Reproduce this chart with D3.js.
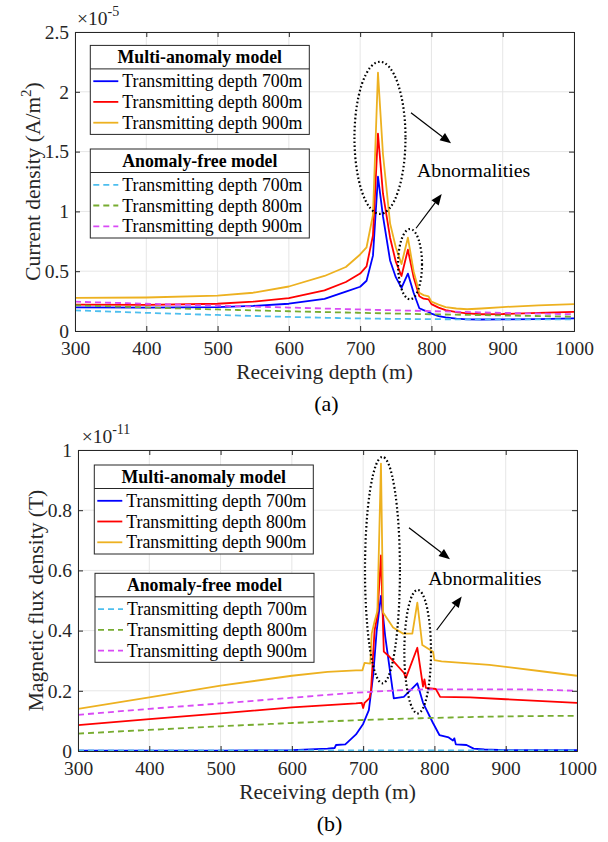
<!DOCTYPE html>
<html>
<head>
<meta charset="utf-8">
<script src="https://cdn.jsdelivr.net/npm/d3@7"></script>
<style>
  html, body { margin: 0; padding: 0; background: #fff; }
  svg { display: block; }
</style>
</head>
<body>
<script>
// ---------- Panel (a): current density, units of 1e-5 A/m^2 ----------
const depthTicks = [300, 400, 500, 600, 700, 800, 900, 1000];
const jTicks = [0, 0.5, 1, 1.5, 2, 2.5];
const jTickLabels = ["0", "0.5", "1", "1.5", "2", "2.5"];

const jDepth = [300, 400, 500, 550, 600, 650, 680, 700, 709, 718, 725, 732, 742, 750, 758, 767, 775, 783, 789, 796, 800, 810, 820, 835, 850, 870, 900, 950, 1000];
const jMulti700 = [0.197, 0.195, 0.200, 0.210, 0.228, 0.268, 0.330, 0.370, 0.420, 0.630, 1.290, 0.960, 0.590, 0.450, 0.360, 0.480, 0.320, 0.190, 0.175, 0.160, 0.145, 0.125, 0.114, 0.104, 0.097, 0.096, 0.097, 0.100, 0.105];
const jMulti800 = [0.220, 0.218, 0.228, 0.245, 0.275, 0.340, 0.410, 0.480, 0.540, 0.800, 1.650, 1.150, 0.780, 0.580, 0.460, 0.680, 0.450, 0.290, 0.270, 0.265, 0.225, 0.195, 0.175, 0.158, 0.147, 0.140, 0.142, 0.152, 0.160];
const jMulti900 = [0.277, 0.280, 0.296, 0.320, 0.372, 0.460, 0.535, 0.640, 0.700, 0.970, 2.160, 1.480, 0.900, 0.700, 0.560, 0.780, 0.500, 0.320, 0.300, 0.290, 0.245, 0.220, 0.200, 0.188, 0.182, 0.188, 0.200, 0.215, 0.225];

const jFreeDepth = [300, 400, 500, 600, 700, 800, 900, 1000];
const jFree700 = [0.173, 0.152, 0.134, 0.118, 0.105, 0.099, 0.097, 0.097];
const jFree800 = [0.215, 0.197, 0.180, 0.165, 0.152, 0.140, 0.130, 0.120];
const jFree900 = [0.245, 0.228, 0.212, 0.196, 0.180, 0.166, 0.152, 0.140];

// ---------- Panel (b): magnetic flux density, units of 1e-11 T ----------
const bTicks = [0, 0.2, 0.4, 0.6, 0.8, 1];
const bTickLabels = ["0", "0.2", "0.4", "0.6", "0.8", "1"];

const bMulti700 = [[300, 0.001], [500, 0.001], [600, 0.003], [650, 0.008], [660, 0.010], [662, 0.020], [675, 0.022], [690, 0.055], [700, 0.090], [708, 0.136], [714, 0.250], [719, 0.400], [725, 0.515], [731, 0.380], [743, 0.175], [757, 0.180], [776, 0.225], [784, 0.160], [798, 0.093], [807, 0.053], [820, 0.045], [826, 0.035], [828, 0.042], [830, 0.022], [845, 0.020], [855, 0.008], [870, 0.005], [900, 0.003], [1000, 0.003]];
const bMulti800 = [[300, 0.086], [400, 0.106], [500, 0.125], [600, 0.145], [690, 0.158], [698, 0.160], [700, 0.143], [702, 0.160], [709, 0.176], [711, 0.200], [716, 0.400], [720, 0.450], [725, 0.650], [729, 0.330], [737, 0.313], [757, 0.260], [760, 0.243], [776, 0.343], [784, 0.214], [786, 0.238], [788, 0.210], [802, 0.206], [808, 0.180], [850, 0.178], [900, 0.172], [1000, 0.160]];
const bMulti900 = [[300, 0.140], [400, 0.178], [500, 0.217], [600, 0.250], [650, 0.263], [690, 0.268], [699, 0.268], [702, 0.293], [710, 0.290], [712, 0.390], [716, 0.430], [720, 0.465], [725, 0.955], [728, 0.460], [742, 0.410], [756, 0.390], [769, 0.390], [776, 0.493], [783, 0.352], [798, 0.330], [800, 0.302], [810, 0.298], [877, 0.286], [950, 0.265], [1000, 0.250]];

const bFreeDepth = [300, 400, 500, 600, 700, 800, 900, 1000];
const bFree700 = [0.002, 0.002, 0.002, 0.002, 0.002, 0.002, 0.002, 0.002];
const bFree800 = [0.058, 0.070, 0.082, 0.093, 0.103, 0.110, 0.115, 0.117];
const bFree900 = [0.120, 0.140, 0.158, 0.177, 0.195, 0.205, 0.205, 0.200];

// ---------- shared text ----------
const legendTitles = ["Multi-anomaly model", "Anomaly-free model"];
const seriesNames = ["Transmitting depth 700m", "Transmitting depth 800m", "Transmitting depth 900m"];
const solidColors = ["#0000ff", "#ff0000", "#edb120"];
const dashColors = ["#4dbeee", "#77ac30", "#d94af5"];

const FONT = "'Liberation Serif','Times New Roman',Times,serif";
const W = 608, H = 842;

const svg = d3.select("body").append("svg")
  .attr("width", W).attr("height", H)
  .attr("viewBox", `0 0 ${W} ${H}`)
  .style("font-family", FONT);

svg.append("rect").attr("width", W).attr("height", H).attr("fill", "#fff");

function zipPairs(xs, ys) { return xs.map((x, i) => [x, ys[i]]); }

function drawPanel(cfg) {
  const g = svg.append("g");
  const x = d3.scaleLinear().domain([300, 1000]).range([cfg.left, cfg.right]);
  const y = d3.scaleLinear().domain(cfg.yDomain).range([cfg.bottom, cfg.top]);
  const clipId = "clip-" + cfg.id;

  g.append("clipPath").attr("id", clipId)
    .append("rect")
    .attr("x", cfg.left).attr("y", cfg.top)
    .attr("width", cfg.right - cfg.left).attr("height", cfg.bottom - cfg.top);

  // grid
  const grid = g.append("g").attr("stroke", "#e6e6e6").attr("stroke-width", 1);
  depthTicks.forEach(d => grid.append("line")
    .attr("x1", x(d)).attr("x2", x(d)).attr("y1", cfg.top).attr("y2", cfg.bottom));
  cfg.yTicks.forEach(d => grid.append("line")
    .attr("x1", cfg.left).attr("x2", cfg.right).attr("y1", y(d)).attr("y2", y(d)));

  const line = d3.line().x(d => x(d[0])).y(d => y(d[1]));
  const smooth = d3.line().x(d => x(d[0])).y(d => y(d[1])).curve(d3.curveMonotoneX);

  const plot = g.append("g").attr("clip-path", `url(#${clipId})`).attr("fill", "none");
  cfg.solid.forEach((s, i) => plot.append("path")
    .attr("d", line(s)).attr("stroke", solidColors[i])
    .attr("stroke-width", 1.8).attr("stroke-linejoin", "round"));
  cfg.dashed.forEach((s, i) => plot.append("path")
    .attr("d", smooth(s)).attr("stroke", dashColors[i])
    .attr("stroke-width", 1.8).attr("stroke-dasharray", "6,4"));

  // axes: bottom/left with labels, top/right mirrored ticks, all pointing inward
  const tickLen = 5;
  const axB = d3.axisBottom(x).tickValues(depthTicks).tickSize(-tickLen).tickPadding(10).tickFormat(d3.format("d"));
  const axT = d3.axisTop(x).tickValues(depthTicks).tickSize(-tickLen).tickFormat("");
  const axL = d3.axisLeft(y).tickValues(cfg.yTicks).tickSize(-tickLen).tickPadding(6)
    .tickFormat((d, i) => cfg.yTickLabels[i]);
  const axR = d3.axisRight(y).tickValues(cfg.yTicks).tickSize(-tickLen).tickFormat("");

  const styleAxis = sel => {
    sel.attr("font-family", null);
    sel.select(".domain").attr("stroke", "#262626").attr("stroke-width", 1);
    sel.selectAll(".tick line").attr("stroke", "#262626");
    sel.selectAll(".tick text").attr("fill", "#262626")
      .style("font-family", FONT).style("font-size", "19.5px");
  };
  g.append("g").attr("transform", `translate(0,${cfg.bottom})`).call(axB).call(styleAxis);
  g.append("g").attr("transform", `translate(0,${cfg.top})`).call(axT).call(styleAxis);
  g.append("g").attr("transform", `translate(${cfg.left},0)`).call(axL).call(styleAxis);
  g.append("g").attr("transform", `translate(${cfg.right},0)`).call(axR).call(styleAxis);

  // exponent multiplier above the y axis
  const expo = g.append("text").attr("x", cfg.left + cfg.expoDx).attr("y", cfg.top - 7)
    .attr("fill", "#262626").style("font-size", "19.5px");
  expo.append("tspan").text("\u00d710");
  expo.append("tspan").attr("dy", -9).style("font-size", "14px").text(cfg.exponent);

  // axis labels
  g.append("text")
    .attr("x", (cfg.left + cfg.right) / 2).attr("y", cfg.bottom + 48)
    .attr("text-anchor", "middle").attr("fill", "#262626").style("font-size", "21.5px")
    .text("Receiving depth (m)");
  const yl = g.append("text")
    .attr("transform", `translate(${cfg.left - 35},${(cfg.top + cfg.bottom) / 2}) rotate(-90)`)
    .attr("text-anchor", "middle").attr("fill", "#262626").style("font-size", "21.5px");
  yl.append("tspan").text(cfg.yLabel);
  if (cfg.yLabelSup) {
    yl.append("tspan").attr("dy", -9).style("font-size", "15px").text(cfg.yLabelSup);
    yl.append("tspan").attr("dy", 9).text(")");
  }

  // panel caption
  g.append("text")
    .attr("x", (cfg.left + cfg.right) / 2 + 2).attr("y", cfg.bottom + 80)
    .attr("text-anchor", "middle").attr("fill", "#000").style("font-size", "22px")
    .text(cfg.caption);

  // dotted ellipses around the anomalies
  cfg.ellipses.forEach(e => {
    g.append("ellipse")
      .attr("cx", x(e.cx)).attr("cy", y(e.cy))
      .attr("rx", x(e.cx + e.rx) - x(e.cx)).attr("ry", y(0) - y(e.ry))
      .attr("fill", "none").attr("stroke", "#000")
      .attr("stroke-width", 2.2).attr("stroke-dasharray", "1.6,2.4");
  });

  // arrows
  cfg.arrows.forEach(a => {
    const x1 = x(a.from[0]), y1 = y(a.from[1]);
    const x2 = x(a.to[0]), y2 = y(a.to[1]);
    const ang = Math.atan2(y2 - y1, x2 - x1);
    const hl = 11, hw = 4.5;
    const bx = x2 - hl * Math.cos(ang), by = y2 - hl * Math.sin(ang);
    g.append("line").attr("x1", x1).attr("y1", y1).attr("x2", bx).attr("y2", by)
      .attr("stroke", "#000").attr("stroke-width", 1.2);
    const px = -Math.sin(ang), py = Math.cos(ang);
    g.append("path")
      .attr("d", `M${x2},${y2}L${bx + hw * px},${by + hw * py}L${bx - hw * px},${by - hw * py}Z`)
      .attr("fill", "#000");
  });

  g.append("text")
    .attr("x", x(cfg.note[0])).attr("y", y(cfg.note[1]))
    .attr("fill", "#000").style("font-size", "19.8px")
    .text("Abnormalities");

  // legends
  cfg.legends.forEach((L, k) => {
    const lg = g.append("g").attr("transform", `translate(${L.x},${L.y})`);
    const lw = 219, lh = 89;
    lg.append("rect").attr("width", lw).attr("height", lh)
      .attr("fill", "#fff").attr("stroke", "#262626").attr("stroke-width", 1);
    lg.append("line").attr("x1", 0).attr("x2", lw).attr("y1", 23.5).attr("y2", 23.5)
      .attr("stroke", "#262626").attr("stroke-width", 1);
    lg.append("text").attr("x", lw / 2).attr("y", 17.8).attr("text-anchor", "middle")
      .attr("fill", "#000").style("font-size", "17.8px").style("font-weight", "bold")
      .text(legendTitles[k]);
    const colors = k === 0 ? solidColors : dashColors;
    [35.8, 56.5, 77.3].forEach((ry, i) => {
      lg.append("line").attr("x1", 3).attr("x2", 28).attr("y1", ry).attr("y2", ry)
        .attr("stroke", colors[i]).attr("stroke-width", 1.8)
        .attr("stroke-dasharray", k === 0 ? null : "6,4");
      lg.append("text").attr("x", 32).attr("y", ry + 6)
        .attr("fill", "#000").style("font-size", "17.8px")
        .text(seriesNames[i]);
    });
  });
}

drawPanel({
  id: "a", left: 75, right: 574, top: 32, bottom: 331,
  yDomain: [0, 2.5], yTicks: jTicks, yTickLabels: jTickLabels,
  exponent: "-5", expoDx: 2,
  yLabel: "Current density (A/m", yLabelSup: "2",
  caption: "(a)",
  solid: [zipPairs(jDepth, jMulti700), zipPairs(jDepth, jMulti800), zipPairs(jDepth, jMulti900)],
  dashed: [zipPairs(jFreeDepth, jFree700), zipPairs(jFreeDepth, jFree800), zipPairs(jFreeDepth, jFree900)],
  ellipses: [{ cx: 727.8, cy: 1.615, rx: 35.8, ry: 0.636 }, { cx: 770, cy: 0.559, rx: 16.8, ry: 0.294 }],
  arrows: [{ from: [771.3, 1.825], to: [827.5, 1.569] }, { from: [778.4, 0.859], to: [814.4, 1.145] }],
  note: [779.7, 1.288],
  legends: [{ x: 90.3, y: 45.4 }, { x: 90.3, y: 149 }]
});

drawPanel({
  id: "b", left: 78, right: 577, top: 450, bottom: 751,
  yDomain: [0, 1], yTicks: bTicks, yTickLabels: bTickLabels,
  exponent: "-11", expoDx: 3.7,
  yLabel: "Magnetic flux density (T)", yLabelSup: null,
  caption: "(b)",
  solid: [bMulti700, bMulti800, bMulti900],
  dashed: [zipPairs(bFreeDepth, bFree700), zipPairs(bFreeDepth, bFree800), zipPairs(bFreeDepth, bFree900)],
  ellipses: [{ cx: 727.1, cy: 0.601, rx: 24.5, ry: 0.376 }, { cx: 776.5, cy: 0.33, rx: 18.7, ry: 0.205 }],
  arrows: [{ from: [764.3, 0.742], to: [821.8, 0.637] }, { from: [803.2, 0.402], to: [838.3, 0.513] }],
  note: [791.4, 0.551],
  legends: [{ x: 94.3, y: 465 }, { x: 95, y: 573.3 }]
});
</script>
</body>
</html>
